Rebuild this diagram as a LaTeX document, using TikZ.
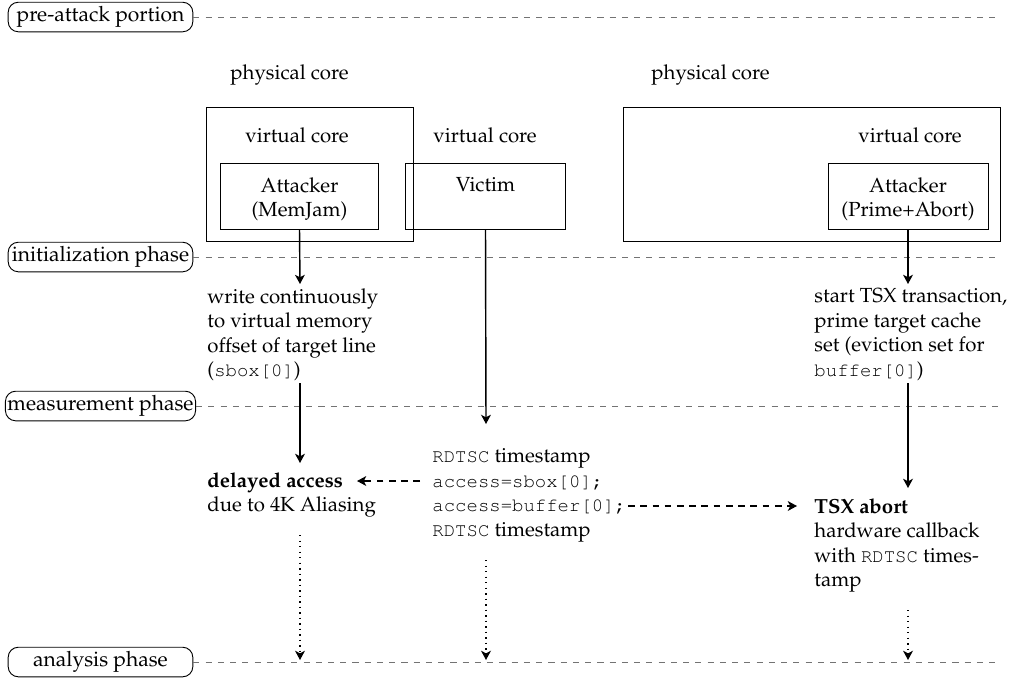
\documentclass[tikz,border=0pt]{standalone}
\usepackage[T1]{fontenc}
\usepackage{mathpazo}
\usepackage{courier}
\usetikzlibrary{arrows.meta}
\newcommand{\cmono}[1]{{\fontsize{9.3pt}{12pt}\selectfont\ttfamily #1}}
\tikzset{
  phase/.style={draw, rounded corners=5pt, inner sep=1pt, minimum width=90.5pt, minimum height=14.5pt, font=\fontsize{10.3pt}{12pt}\selectfont},
  phaseline/.style={draw=black!55, dashed},
  pcbox/.style={draw, inner sep=0pt},
  txt/.style={inner sep=0pt, align=left, anchor=north west},
  arr/.style={line width=0.7pt, -{Stealth[length=4.5pt,width=4.8pt,inset=1.2pt]}},
  darr/.style={arr, line width=0.6pt, dash pattern=on 3.3pt off 2.7pt},
  dotarr/.style={arr, dotted},
}
\begin{document}
\begin{tikzpicture}[x=0.49pt, y=-0.49pt, line width=0.45pt]
\useasboundingbox (0,0) rectangle (1012,681);

% phase labels and their separator lines
\node[phase] (p1) at (100.5,17) {pre-attack portion};
\node[phase] (p2) at (100.5,257) {initialization phase};
\node[phase] (p3) at (100.5,406) {measurement phase};
\node[phase] (p4) at (100.5,662) {analysis phase};
\coordinate (e1) at (1000,17);
\coordinate (e2) at (1000,257);
\coordinate (e3) at (1000,406);
\coordinate (e4) at (1000,662);
\draw[phaseline] (p1.east) -- (e1);
\draw[phaseline] (p2.east) -- (e2);
\draw[phaseline] (p3.east) -- (e3);
\draw[phaseline] (p4.east) -- (e4);

% physical cores
\node[pcbox, minimum width=101pt, minimum height=65.7pt] (pc1) at (310,174) {};
\node[pcbox, minimum width=184.7pt, minimum height=65.7pt] (pc2) at (811.5,174) {};
\node[inner sep=0pt, anchor=base west] (pc1l) at (230,79) {physical core};
\node[inner sep=0pt, anchor=base west] (pc2l) at (651,79) {physical core};

% virtual cores
\node[inner sep=0pt, anchor=base] (vc1) at (297,142) {virtual core};
\node[inner sep=0pt, anchor=base] (vc2) at (485,142) {virtual core};
\node[inner sep=0pt, anchor=base] (vc3) at (910,142) {virtual core};

\node[pcbox, minimum width=77pt, minimum height=32.3pt] (mj) at (299.5,196) {};
\node[pcbox, minimum width=78pt, minimum height=32.3pt] (vic) at (485.5,196) {};
\node[pcbox, minimum width=78.4pt, minimum height=32.3pt] (pa) at (908,196) {};
\node[inner sep=0pt, anchor=north, align=center] (mjt) at (299.5,177) {Attacker\\(MemJam)};
\node[inner sep=0pt, anchor=north] (vict) at (485.5,177) {Victim};
\node[inner sep=0pt, anchor=north, align=center] (pat) at (908,177) {Attacker\\(Prime+Abort)};

% phase texts
\node[txt] (w) at (207,288) {write continuously\\to virtual memory\\offset of target line\\(\cmono{sbox[0]})};
\node[txt] (s) at (814,288) {start TSX transaction,\\prime target cache\\set (eviction set for\\\cmono{buffer[0]})};
\node[txt] (d) at (207,472) {\textbf{delayed access}\\due to 4K Aliasing};
\node[txt] (v) at (432,448) {\cmono{RDTSC} timestamp\\\cmono{access=sbox[0];}\\\cmono{access=buffer[0];}\\\cmono{RDTSC} timestamp};
\node[txt] (t) at (814,498) {\textbf{TSX abort}\\hardware callback\\with \cmono{RDTSC} times-\\tamp};

% connector end points
\coordinate (w1) at (300,284);
\coordinate (w2) at (300,383);
\coordinate (d1) at (300,463);
\coordinate (v1) at (486,424);
\coordinate (s1) at (908,284);
\coordinate (s2) at (908,383);
\coordinate (t1) at (908,488);
\coordinate (dd0) at (420,481);
\coordinate (dd1) at (357,481);
\coordinate (dt0) at (628,506);
\coordinate (dt1) at (797,506);
\coordinate (o1) at (300,535);
\coordinate (o2) at (486,560);
\coordinate (o3) at (908,610);
\coordinate (q1) at (300,660);
\coordinate (q2) at (486,660);
\coordinate (q3) at (908,660);

% connectors
\draw[arr] (mj.south) -- (w1);
\draw[arr] (w2) -- (d1);
\draw[arr] (vic.south) -- (v1);
\draw[arr] (pa.south) -- (s1);
\draw[arr] (s2) -- (t1);
\draw[darr] (dd0) -- (dd1);
\draw[darr] (dt0) -- (dt1);
\draw[dotarr] (o1) -- (q1);
\draw[dotarr] (o2) -- (q2);
\draw[dotarr] (o3) -- (q3);
\end{tikzpicture}
\end{document}
